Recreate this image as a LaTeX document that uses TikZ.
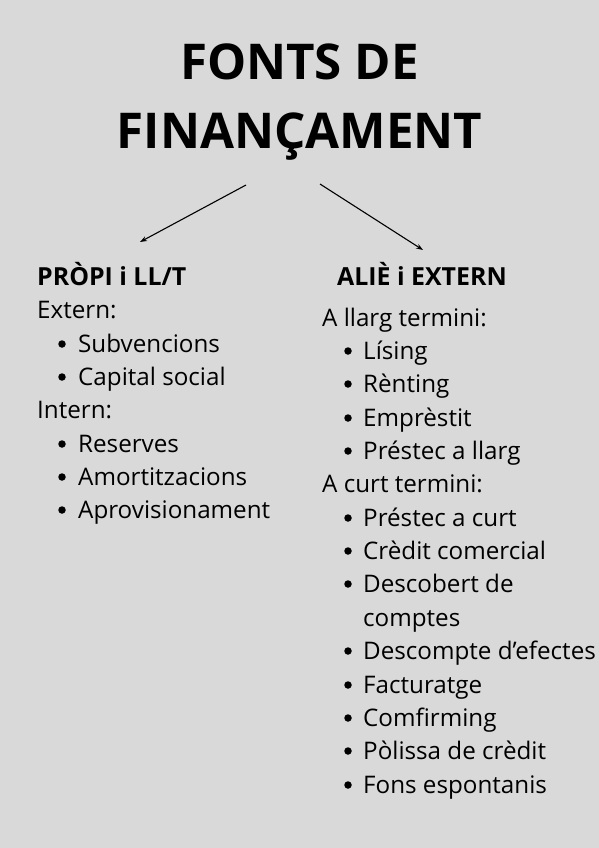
\documentclass[tikz,border=0pt]{standalone}
\usepackage{fontspec}
\setmainfont{Open Sans}
\usetikzlibrary{arrows.meta}
\definecolor{bgrey}{HTML}{D9D9D9}
\tikzset{
  titletxt/.style={anchor=base, align=center, font=\fontsize{49.3}{70}\selectfont\bfseries},
  headtxt/.style={anchor=base west, inner sep=0pt, font=\fontsize{24.9}{33.4}\selectfont\bfseries},
  itemtxt/.style={anchor=base west, inner sep=0pt, align=left, font=\fontsize{24.2}{33.4}\selectfont},
  bul/.style={circle, fill, inner sep=0pt, minimum size=7.5pt},
  arr/.style={line width=1.1pt, -{Stealth[length=7pt,width=5pt]}}
}
\begin{document}
\begin{tikzpicture}[x=1pt,y=-1pt]
        \fill[bgrey] (0,0) rectangle (599,848);
        \useasboundingbox (0,0) rectangle (599,848);
        \node[titletxt] (title) at (299.5,149) {FONTS DE\\FINANÇAMENT};
        % arrows
        \coordinate (ls) at (246,185);
        \coordinate (le) at (140,242);
        \coordinate (rs) at (320,184);
        \coordinate (re) at (423,250);
        \draw[arr] (ls) -- (le);
        \draw[arr] (rs) -- (re);
        % left column
        \node[headtxt] (lhead) at (37,285) {PRÒPI i LL/T};
        \node[itemtxt] (lext) at (37,318) {Extern:};
        \node[itemtxt] (lint) at (37,418) {Intern:};
        \foreach \y/\t [count=\i] in {352/Subvencions, 385/Capital social, 452/Reserves, 485/Amortitzacions, 518/Aprovisionament}
        {
                \node[bul] (lb\i) at (62,\y-8) {};
                \node[itemtxt] (li\i) at (78,\y) {\t};
        }
        % right column
        \node[headtxt] (rhead) at (337,285) {ALIÈ i EXTERN};
        \node[itemtxt] (rllarg) at (322,326) {A llarg termini:};
        \node[itemtxt] (rcurt) at (322,492) {A curt termini:};
        \foreach \y/\t [count=\i] in {359/Lísing, 392/Rènting, 426/Emprèstit, 459/Préstec a llarg, 526/Préstec a curt, 559/Crèdit comercial, 659/Descompte d’efectes, 693/Facturatge, 726/Comfirming, 759/Pòlissa de crèdit, 793/Fons espontanis}
        {
                \node[bul] (rb\i) at (348,\y-8) {};
                \node[itemtxt] (ri\i) at (363,\y) {\t};
        }
        \node[bul] (rbdesc) at (348,584) {};
        \node[itemtxt] (rdesc) at (363,626) {Descobert de\\comptes};
\end{tikzpicture}
\end{document}
